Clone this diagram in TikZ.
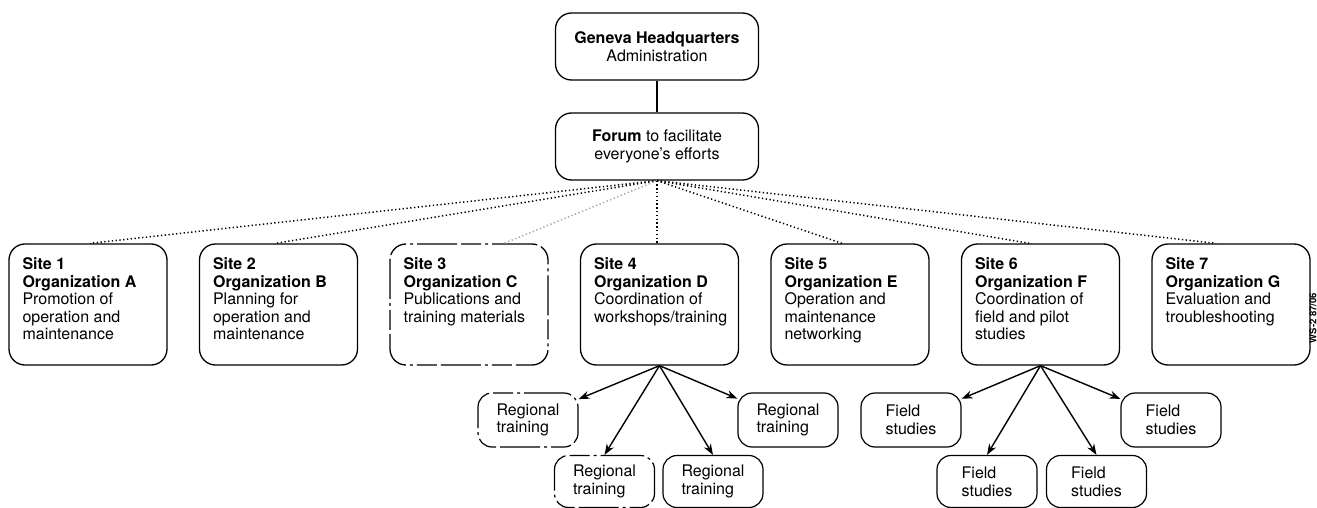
\documentclass[tikz,border=0pt]{standalone}
\usepackage{fontspec}
\setmainfont{TeX Gyre Heros}
\usetikzlibrary{arrows.meta}
\begin{document}
\begin{tikzpicture}[x=1pt,y=-1pt,
  every node/.style={font=\fontsize{16}{17.6}\selectfont},
  box/.style={draw, line width=1.3pt, rounded corners=16pt, inner sep=0pt},
  topbox/.style={box, minimum width=203pt, minimum height=67pt, align=center},
  site/.style={box, minimum width=158pt, minimum height=121pt},
  brokenbox/.style={dash pattern=on 40pt off 4pt on 3pt off 4pt on 20pt off 4pt},
  sitetext/.style={anchor=north west, align=left, inner sep=0pt},
  sub/.style={draw, line width=1.2pt, rounded corners=14pt, inner sep=0pt,
    minimum width=100pt, minimum height=54pt, align=left},
  subbot/.style={sub, minimum height=52pt},
  dotline/.style={line width=1.5pt, dash pattern=on 1.3pt off 2.5pt},
  fadeline/.style={dotline, draw=black!35},
  arr/.style={line width=1.4pt, -{Stealth[length=11pt,width=8pt]}},
  solidline/.style={line width=1.5pt}
]
\useasboundingbox (0,0) rectangle (1317,508);

% top boxes
\node[topbox] (hq) at (657,46.5) {\textbf{Geneva Headquarters}\\Administration};
\node[topbox] (forum) at (657,146.5) {\textbf{Forum} to facilitate\\everyone's efforts};
\draw[solidline] (hq.south) -- (forum.north);

% site boxes
\node[site] (s1) at (88,304.5) {};
\node[site] (s2) at (278.5,304.5) {};
\node[site, brokenbox] (s3) at (469,304.5) {};
\node[site] (s4) at (659.5,304.5) {};
\node[site] (s5) at (850,304.5) {};
\node[site] (s6) at (1040.5,304.5) {};
\node[site] (s7) at (1231,304.5) {};

\node[sitetext] (t1) at ([xshift=14pt,yshift=-14pt]s1.north west)
  {\textbf{Site 1}\\\textbf{Organization A}\\Promotion of\\operation and\\maintenance};
\node[sitetext] (t2) at ([xshift=14pt,yshift=-14pt]s2.north west)
  {\textbf{Site 2}\\\textbf{Organization B}\\Planning for\\operation and\\maintenance};
\node[sitetext] (t3) at ([xshift=14pt,yshift=-14pt]s3.north west)
  {\textbf{Site 3}\\\textbf{Organization C}\\Publications and\\training materials};
\node[sitetext] (t4) at ([xshift=14pt,yshift=-14pt]s4.north west)
  {\textbf{Site 4}\\\textbf{Organization D}\\Coordination of\\workshops/training};
\node[sitetext] (t5) at ([xshift=14pt,yshift=-14pt]s5.north west)
  {\textbf{Site 5}\\\textbf{Organization E}\\Operation and\\maintenance\\networking};
\node[sitetext] (t6) at ([xshift=14pt,yshift=-14pt]s6.north west)
  {\textbf{Site 6}\\\textbf{Organization F}\\Coordination of\\field and pilot\\studies};
\node[sitetext] (t7) at ([xshift=14pt,yshift=-14pt]s7.north west)
  {\textbf{Site 7}\\\textbf{Organization G}\\Evaluation and\\troubleshooting};

% dotted connectors
\draw[dotline] (forum.south) -- ([xshift=2pt]s1.north);
\draw[dotline] (forum.south) -- ([xshift=-3pt]s2.north);
\draw[fadeline] (forum.south) -- ([xshift=35pt]s3.north);
\draw[dotline] (forum.south) -- (forum.south |- s4.north);
\draw[dotline] (forum.south) -- ([xshift=-8pt]s5.north);
\draw[dotline] (forum.south) -- ([xshift=-11pt]s6.north);
\draw[dotline] (forum.south) -- ([xshift=-15pt]s7.north);

% regional training boxes
\node[sub, brokenbox] (r1) at (528,420) {Regional\\training};
\node[subbot, brokenbox] (r2) at (604.5,481.5) {Regional\\training};
\node[subbot] (r3) at (713,481.5) {Regional\\training};
\node[sub] (r4) at (788,420) {Regional\\training};

\draw[arr] (s4.south) -- (r1);
\draw[arr] (s4.south) -- (r2.north);
\draw[arr] (s4.south) -- (r3.north);
\draw[arr] (s4.south) -- (r4);

% field studies boxes
\node[sub] (f1) at (911,420) {Field\\studies};
\node[subbot] (f2) at (987,481.5) {Field\\studies};
\node[subbot] (f3) at (1096.5,481.5) {Field\\studies};
\node[sub] (f4) at (1171,420) {Field\\studies};

\draw[arr] (s6.south) -- (f1);
\draw[arr] (s6.south) -- (f2.north);
\draw[arr] (s6.south) -- (f3.north);
\draw[arr] (s6.south) -- (f4);

% side code
\node[rotate=90, font=\fontsize{9.5}{10}\selectfont\bfseries, inner sep=0pt] (code) at (1313,318) {WS-2 87/06};
\end{tikzpicture}
\end{document}
